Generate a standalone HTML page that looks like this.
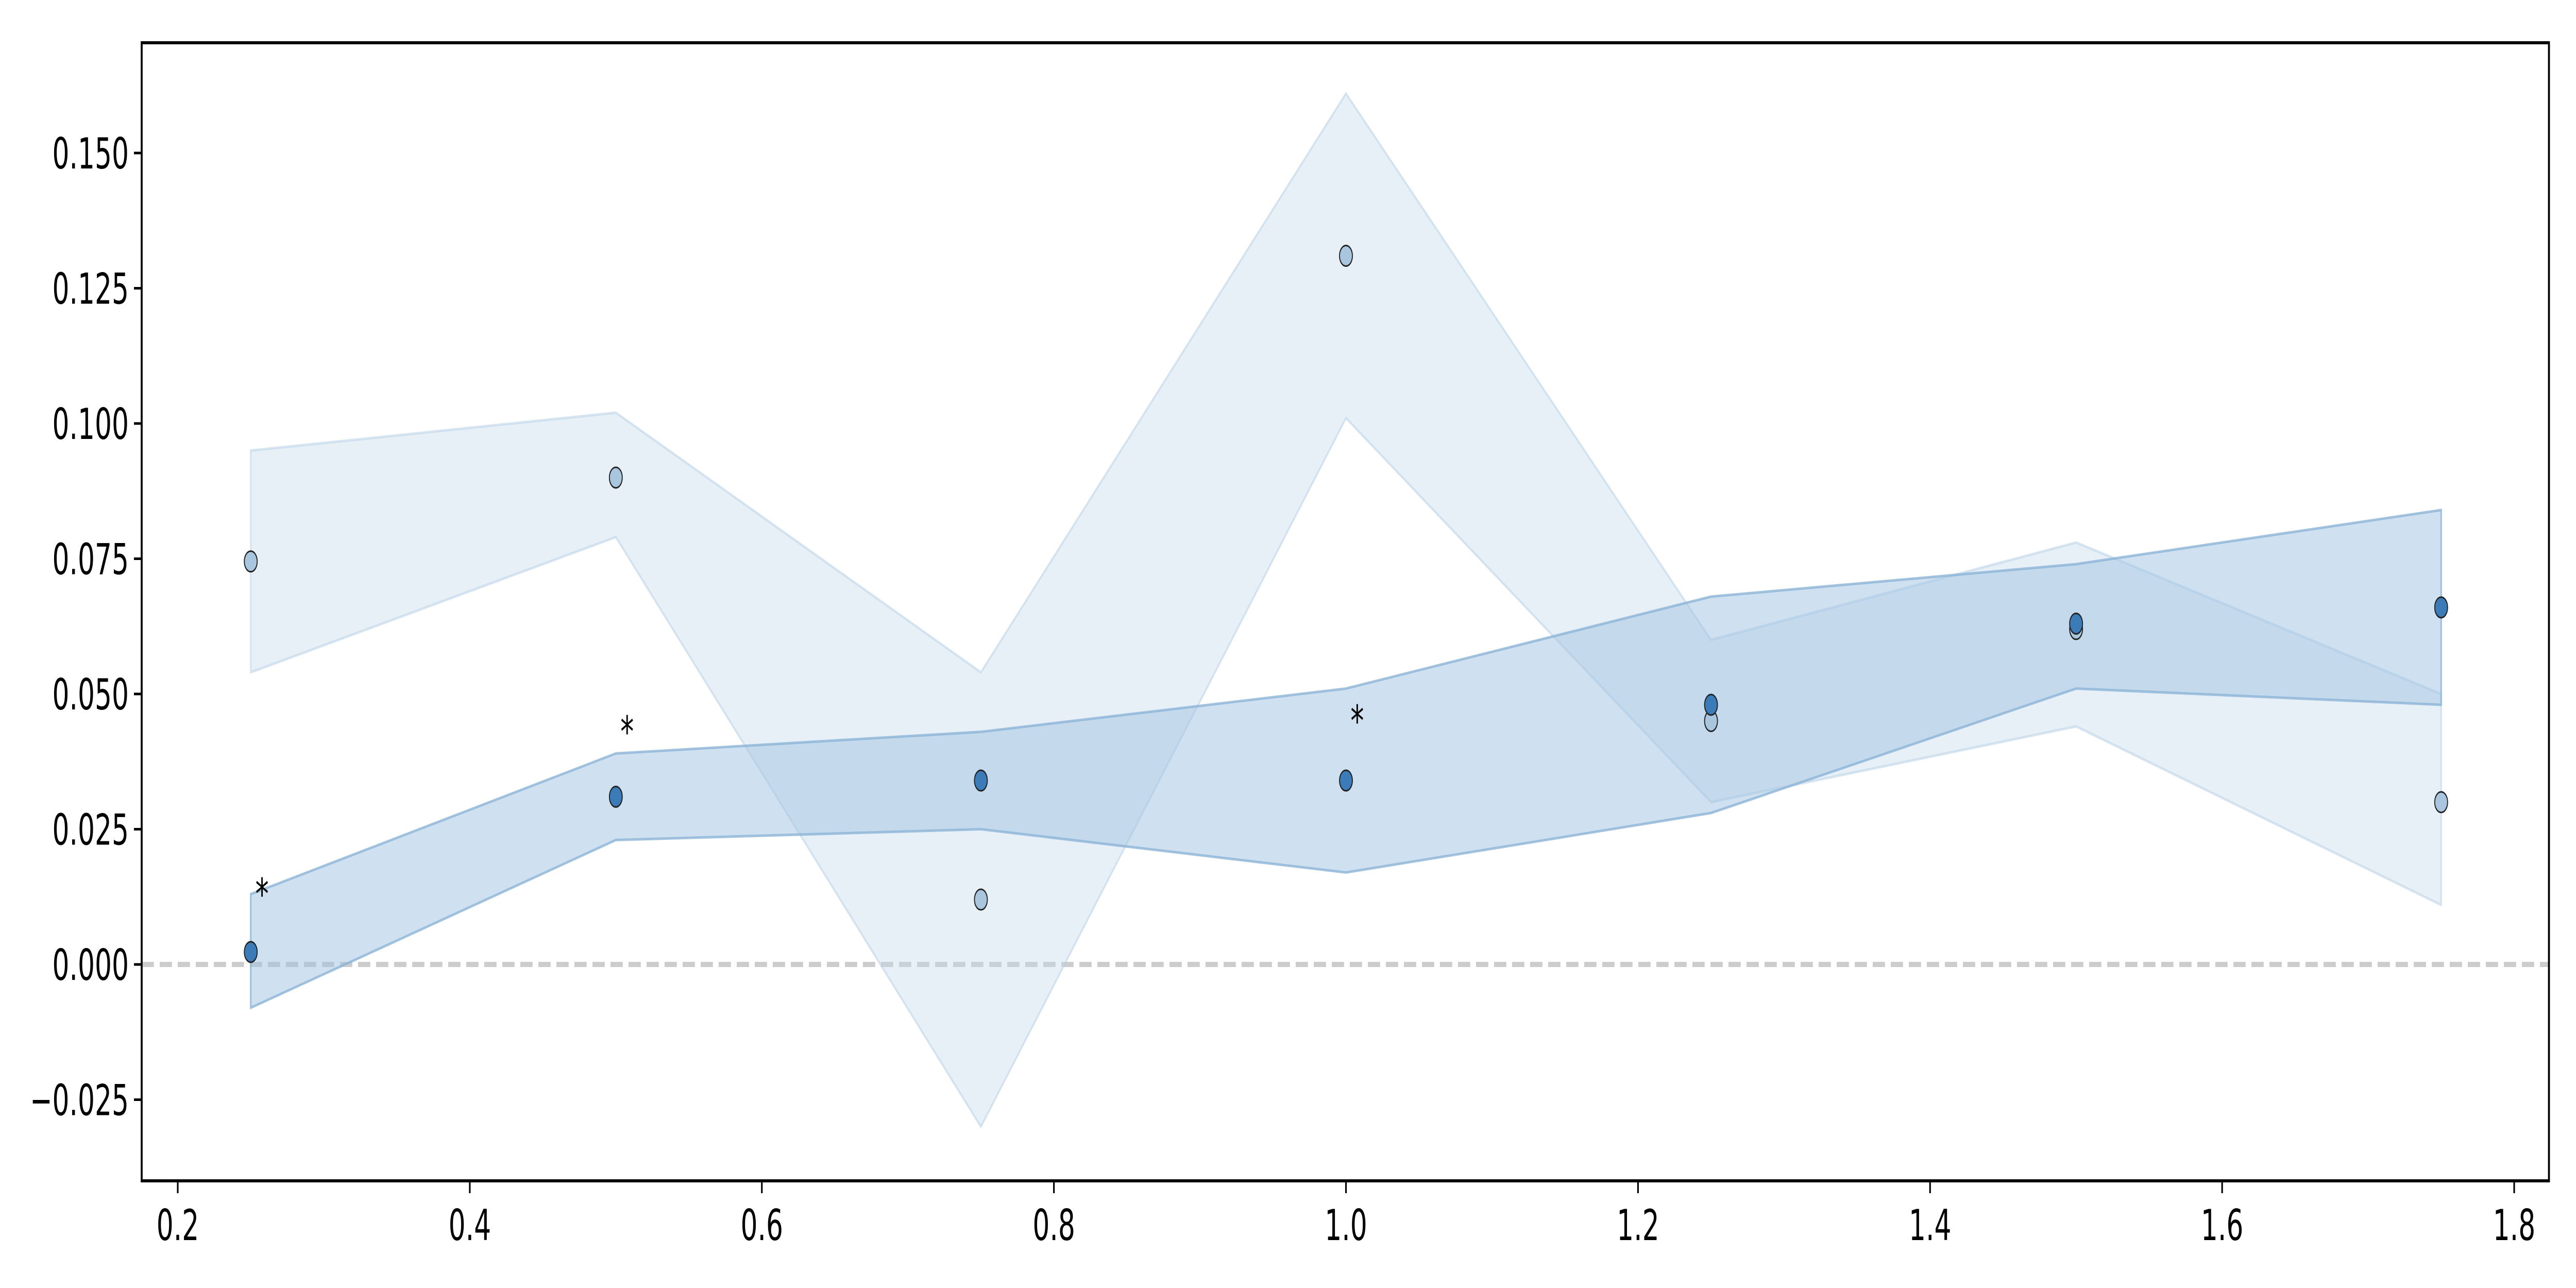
<!DOCTYPE html>
<html><head><meta charset="utf-8"><style>
html,body{margin:0;padding:0;background:#fff;width:100%;height:100%;overflow:hidden;}
svg{position:absolute;left:0;top:0;width:100vw;height:100vh;display:block;font-family:"DejaVu Sans","Liberation Sans",sans-serif;}
</style></head><body>
<svg id="chart" viewBox="0 0 8000 2500" preserveAspectRatio="none" xmlns="http://www.w3.org/2000/svg">
<g id="layer"></g>
</svg>
<script>
const xCats = [0.25, 0.5, 0.75, 1.0, 1.25, 1.5, 1.75];
const darkMean = [0.0023, 0.031, 0.034, 0.034, 0.048, 0.063, 0.066];
const darkHi = [0.013, 0.039, 0.043, 0.051, 0.068, 0.074, 0.084];
const darkLo = [-0.008, 0.023, 0.025, 0.017, 0.028, 0.051, 0.048];
const lightMean = [0.0745, 0.090, 0.012, 0.131, 0.045, 0.062, 0.030];
const lightHi = [0.095, 0.102, 0.054, 0.161, 0.060, 0.078, 0.050];
const lightLo = [0.054, 0.079, -0.030, 0.101, 0.030, 0.044, 0.011];
const starX = [0.25, 0.5, 1.0];
const starY = [0.015, 0.045, 0.047];
const xTicks = [0.2, 0.4, 0.6, 0.8, 1.0, 1.2, 1.4, 1.6, 1.8];
const xTickLabels = ["0.2","0.4","0.6","0.8","1.0","1.2","1.4","1.6","1.8"];
const yTicks = [-0.025, 0, 0.025, 0.05, 0.075, 0.1, 0.125, 0.15];
const yTickLabels = ["\u22120.025","0.000","0.025","0.050","0.075","0.100","0.125","0.150"];

const L=440, R=7916, T=83, B=2292;
function sx(v){ return 552 + (v-0.2)/0.2*907; }
function sy(v){ return 1872 - v/0.025*262.5; }
const NS="http://www.w3.org/2000/svg";
const layer=document.getElementById('layer');
function mk(tag, attrs){ const e=document.createElementNS(NS,tag); for(const k in attrs) e.setAttribute(k,attrs[k]); layer.appendChild(e); return e; }

function band(hi, lo, fill, stroke, name){
  let pts=[];
  for(let i=0;i<xCats.length;i++) pts.push(sx(xCats[i])+','+sy(hi[i]));
  for(let i=xCats.length-1;i>=0;i--) pts.push(sx(xCats[i])+','+sy(lo[i]));
  const p=mk('polygon',{points:pts.join(' '),fill:fill,stroke:stroke,'stroke-width':5});
  
  
}
const zl=mk('line',{x1:L,x2:R,y1:sy(0),y2:sy(0),stroke:'#cccccc','stroke-width':10,'stroke-dasharray':'38 18'});



band(lightHi, lightLo, 'rgba(198,217,236,0.4)', 'rgba(180,205,230,0.5)', 'light-ci-band');
band(darkHi, darkLo, 'rgba(160,195,225,0.5)', 'rgba(140,180,215,0.8)', 'dark-ci-band');

for(let i=0;i<xCats.length;i++){
  const c=mk('ellipse',{cx:sx(xCats[i]),cy:sy(lightMean[i]),rx:20,ry:20,fill:'#a9c6de',stroke:'#222','stroke-width':3});
  
  
}
for(let i=0;i<xCats.length;i++){
  const c=mk('ellipse',{cx:sx(xCats[i]),cy:sy(darkMean[i]),rx:20,ry:20,fill:'#3b7bb8',stroke:'#222','stroke-width':3});
  
  
}
for(let i=0;i<starX.length;i++){
  const t=mk('text',{x:sx(starX[i])+35,y:sy(starY[i])+50,'font-size':83,'text-anchor':'middle',fill:'#000'});
  t.textContent='*';
  
  
}
const fr=mk('rect',{x:L,y:T,width:R-L,height:B-T,fill:'none',stroke:'#000','stroke-width':6});


for(let i=0;i<xTicks.length;i++){
  const x=sx(xTicks[i]);
  const tk=mk('line',{x1:x,x2:x,y1:B,y2:B+24,stroke:'#000','stroke-width':5});
  
  
  const t=mk('text',{x:x,y:B+115,'font-size':83,'text-anchor':'middle',fill:'#000'});
  t.textContent=xTickLabels[i];
  
  
}
for(let i=0;i<yTicks.length;i++){
  const y=sy(yTicks[i]);
  const tk=mk('line',{x1:L-24,x2:L,y1:y,y2:y,stroke:'#000','stroke-width':5});
  
  
  const t=mk('text',{x:L-40,y:y+30,'font-size':83,'text-anchor':'end',fill:'#000'});
  t.textContent=yTickLabels[i];
  
  
}
</script>
</body></html>
